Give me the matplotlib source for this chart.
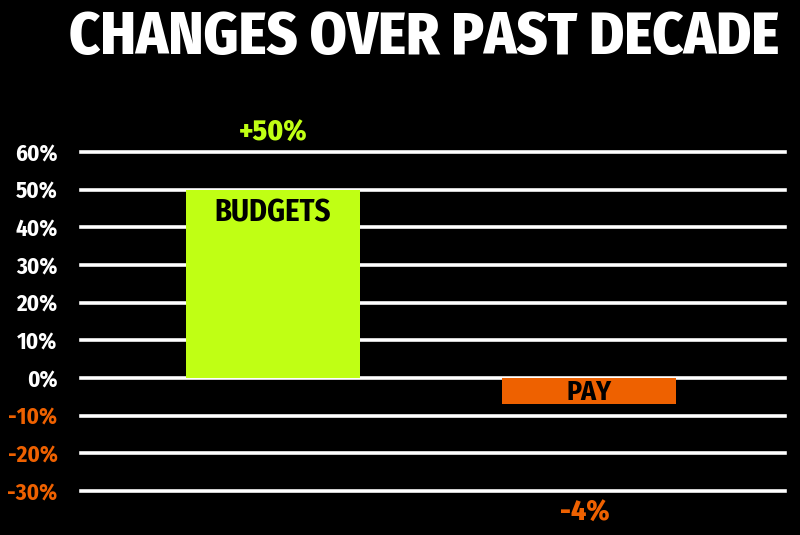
import matplotlib
matplotlib.use("Agg")
import matplotlib.pyplot as plt

categories = ["BUDGETS", "PAY"]
values = [50, -7]
value_labels = ["+50%", "-4%"]
bar_colors = ["#c0ff14", "#ee6100"]
y_ticks = [60, 50, 40, 30, 20, 10, 0, -10, -20, -30]
y_tick_labels = ["{}%".format(t) for t in y_ticks]

FONT = ["Fira Sans Condensed", "DejaVu Sans"]
STRETCH = "condensed"


def fit_width(fig, txt, width_px):
    fig.canvas.draw()
    w = txt.get_window_extent().width
    txt.set_fontsize(txt.get_fontsize() * width_px / w)


def main():
    fig = plt.figure(figsize=(8, 5.35), dpi=100, facecolor="black")
    ax = fig.add_axes([81 / 800, 44 / 535, 704 / 800, 339 / 535])
    ax.set_facecolor("black")

    x = [0, 1]
    ax.bar(x, values, width=0.55, color=bar_colors, zorder=3)

    ax.set_xlim(-0.608, 1.62)
    ax.set_ylim(-30, 60)
    for t in y_ticks:
        ax.axhline(t, color="white", lw=2.6, zorder=2, clip_on=False)

    for s in ax.spines.values():
        s.set_visible(False)
    ax.set_xticks([])
    ax.set_yticks(y_ticks)
    ax.set_yticklabels(y_tick_labels, fontfamily=FONT, fontweight="bold",
                       fontstretch=STRETCH, fontsize=16.5)
    ax.tick_params(axis="y", length=0, pad=17)
    for lab, t in zip(ax.get_yticklabels(), y_ticks):
        lab.set_color("white" if t >= 0 else "#ee6100")

    # names inside bars
    ax.text(x[0], 47.8, categories[0], ha="center", va="top", color="black",
            fontsize=22, fontweight="bold", fontfamily=FONT, fontstretch=STRETCH,
            zorder=4)
    ax.text(x[1], values[1] / 2 - 0.3, categories[1], ha="center", va="center",
            color="black", fontsize=20, fontweight="bold", fontfamily=FONT,
            fontstretch=STRETCH, zorder=4)

    # value labels
    ax.text(x[0], 65, value_labels[0], ha="center", va="center", color=bar_colors[0],
            fontsize=21, fontweight="heavy", fontfamily=FONT, fontstretch=STRETCH,
            clip_on=False)
    ax.text(x[1] - 0.015, -35.8, value_labels[1], ha="center", va="center",
            color=bar_colors[1], fontsize=21, fontweight="heavy", fontfamily=FONT,
            fontstretch=STRETCH, clip_on=False)

    title = fig.text(424.5 / 800, 1 - 38 / 535, "CHANGES OVER PAST DECADE", ha="center",
                     va="center", color="white", fontsize=40, fontweight="heavy",
                     fontfamily=FONT, fontstretch=STRETCH)
    fit_width(fig, title, 711)

    fig.savefig("out.png", dpi=100, facecolor="black")


if __name__ == "__main__":
    main()
